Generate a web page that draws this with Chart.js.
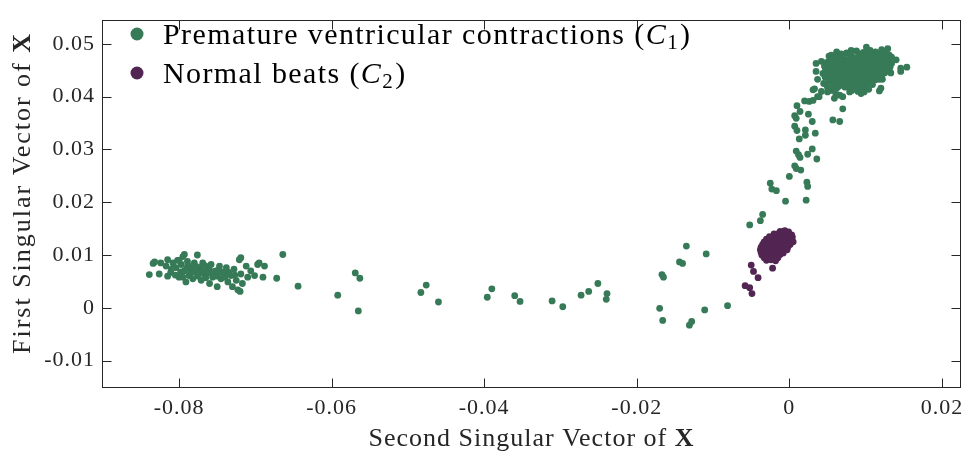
<!DOCTYPE html>
<html><head><meta charset="utf-8">
<script src="https://cdn.jsdelivr.net/npm/chart.js@4/dist/chart.umd.min.js"></script>
<style>html,body{margin:0;padding:0;background:#fff;}canvas{display:block;}</style>
</head><body>
<canvas id="c" width="969" height="457"></canvas>
<script>
// ---------- data ----------
const seriesNames = ['Premature ventricular contractions', 'Normal beats'];
const seriesSubscripts = ['1', '2'];
const seriesColors = ['#377a57', '#522552'];

const xTickValues = [-0.08, -0.06, -0.04, -0.02, 0, 0.02];
const xTickLabels = ['-0.08', '-0.06', '-0.04', '-0.02', '0', '0.02'];
const yTickValues = [-0.01, 0, 0.01, 0.02, 0.03, 0.04, 0.05];
const yTickLabels = ['-0.01', '0', '0.01', '0.02', '0.03', '0.04', '0.05'];
const xAxisTitle = 'Second Singular Vector of ';
const yAxisTitle = 'First Singular Vector of ';
const axisSymbol = 'X';

// Premature ventricular contractions (C1): [second, first] singular vector values
const pvcLeftCluster = [
[-0.0839,0.0063],[-0.0832,0.0087],[-0.0824,0.0085],[-0.0826,0.0064],[-0.0817,0.0079],[-0.0815,0.0091],[-0.0811,0.0067],[-0.0808,0.0085],
[-0.0804,0.0076],[-0.0802,0.0090],[-0.0800,0.0058],[-0.0797,0.0082],[-0.0795,0.0097],[-0.0793,0.0070],[-0.0791,0.0049],[-0.0789,0.0088],
[-0.0787,0.0061],[-0.0784,0.0076],[-0.0782,0.0055],[-0.0780,0.0085],[-0.0778,0.0067],[-0.0776,0.0100],[-0.0773,0.0076],[-0.0771,0.0052],
[-0.0769,0.0085],[-0.0767,0.0064],[-0.0763,0.0073],[-0.0760,0.0046],[-0.0758,0.0082],[-0.0756,0.0058],[-0.0752,0.0070],[-0.0750,0.0040],
[-0.0747,0.0079],[-0.0745,0.0055],[-0.0741,0.0064],[-0.0738,0.0076],[-0.0736,0.0049],[-0.0732,0.0061],[-0.0730,0.0040],[-0.0728,0.0073],
[-0.0725,0.0052],[-0.0723,0.0034],[-0.0721,0.0091],[-0.0719,0.0064],[-0.0717,0.0046],[-0.0712,0.0079],[-0.0710,0.0058],[-0.0706,0.0070],
[-0.0701,0.0061],[-0.0697,0.0082],[-0.0688,0.0079],[-0.0690,0.0058],[-0.0793,0.0101],[-0.0834,0.0084],[-0.0719,0.0095],[-0.0695,0.0085],
[-0.0720,0.0031],[-0.0798,0.0068],[-0.0790,0.0075],[-0.0785,0.0066],[-0.0780,0.0071],[-0.0775,0.0060],[-0.0770,0.0069],[-0.0765,0.0057],
[-0.0762,0.0066],[-0.0755,0.0064],[-0.0750,0.0060],[-0.0744,0.0068],[-0.0740,0.0058],[-0.0735,0.0067],[-0.0810,0.0073],[-0.0805,0.0062],
[-0.0795,0.0058],[-0.0788,0.0080],[-0.0777,0.0078],[-0.0766,0.0080],[-0.0760,0.0072],[-0.0748,0.0072],[-0.0727,0.0062],[-0.0815,0.0060],
[-0.0800,0.0090]
];
const pvcScattered = [
[-0.0664,0.0101],[-0.0672,0.0056],[-0.0644,0.0041],[-0.0592,0.0024],[-0.0569,0.0066],[-0.0563,0.0056],[-0.0565,-0.0006],[-0.0483,0.0029],
[-0.0476,0.0043],[-0.0460,0.0011],[-0.0396,0.0020],[-0.0390,0.0036],[-0.0360,0.0023],[-0.0353,0.0012],[-0.0311,0.0013],[-0.0297,0.0002],
[-0.0273,0.0024],[-0.0263,0.0031],[-0.0251,0.0046],[-0.0239,0.0027],[-0.0240,0.0016],[-0.0135,0.0117],[-0.0109,0.0102],[-0.0144,0.0087],
[-0.0140,0.0084],[-0.0167,0.0063],[-0.0165,0.0058],[-0.0170,-0.0001],[-0.0166,-0.0024],[-0.0111,-0.0004],[-0.0081,0.0004],[-0.0128,-0.0026],
[-0.0131,-0.0033]
];
const pvcArc = [
[-0.0052,0.0157],[-0.0038,0.0165],[-0.0035,0.0177],[-0.0005,0.0202],[0.0022,0.0204],[-0.0025,0.0236],[-0.0023,0.0225],[-0.0017,0.0222],
[0.0023,0.0238],[0.0024,0.0230],[0.0000,0.0249],[0.0007,0.0269],[0.0009,0.0264],[0.0015,0.0261],[0.0036,0.0282],[0.0009,0.0297],
[0.0012,0.0290],[0.0014,0.0285],[0.0024,0.0291],[0.0030,0.0301],[0.0013,0.0320],[0.0021,0.0337],[0.0021,0.0327],[0.0034,0.0331],
[0.0007,0.0344],[0.0010,0.0336],[0.0030,0.0353],[0.0007,0.0364],[0.0009,0.0359],[0.0025,0.0367],[0.0010,0.0383],[0.0014,0.0372],
[0.0020,0.0392],[0.0026,0.0391],[0.0031,0.0393],[0.0057,0.0356],[0.0066,0.0353],[0.0070,0.0377]
];
const pvcTopEdge = [
[0.0031,0.0413],[0.0037,0.0400],[0.0154,0.0456],[0.0146,0.0454],[0.0146,0.0448],[0.0133,0.0445],[0.0101,0.0494],[0.0081,0.0488],
[0.0118,0.0411],[0.0120,0.0416],[0.0035,0.0463],[0.0042,0.0467],[0.0052,0.0477],[0.0035,0.0448],[0.0037,0.0433],[0.0033,0.0415],
[0.0039,0.0400],[0.0050,0.0409],[0.0059,0.0397],[0.0066,0.0403],[0.0079,0.0409],[0.0094,0.0406],[0.0098,0.0409],[0.0140,0.0470],
[0.0129,0.0491],[0.0055,0.0479],[0.0122,0.0433],
[0.0045,0.0425],[0.0050,0.0418],[0.0042,0.0410],[0.0055,0.0412],[0.0061,0.0405],[0.0070,0.0400],[0.0082,0.0412],[0.0090,0.0410]
];
const pvcTopCore = [
[0.0062,0.0485],[0.0075,0.0483],[0.0088,0.0487],[0.0097,0.0484],[0.0106,0.0488],[0.0113,0.0485],[0.0121,0.0489],[0.0127,0.0486],
[0.0058,0.0477],[0.0067,0.0480],[0.0079,0.0476],[0.0091,0.0479],[0.0100,0.0477],[0.0110,0.0480],[0.0118,0.0478],[0.0124,0.0481],[0.0131,0.0479],
[0.0053,0.0471],[0.0064,0.0473],[0.0072,0.0470],[0.0084,0.0472],[0.0095,0.0471],[0.0104,0.0474],[0.0115,0.0471],[0.0122,0.0473],[0.0128,0.0470],
[0.0049,0.0465],[0.0060,0.0467],[0.0070,0.0464],[0.0081,0.0466],[0.0090,0.0468],[0.0101,0.0465],[0.0109,0.0467],[0.0119,0.0464],[0.0126,0.0466],[0.0134,0.0463],
[0.0046,0.0458],[0.0057,0.0460],[0.0067,0.0457],[0.0077,0.0459],[0.0087,0.0461],[0.0097,0.0458],[0.0106,0.0460],[0.0114,0.0457],[0.0123,0.0459],[0.0130,0.0461],
[0.0050,0.0451],[0.0061,0.0453],[0.0071,0.0450],[0.0082,0.0452],[0.0092,0.0454],[0.0102,0.0451],[0.0111,0.0453],[0.0120,0.0450],[0.0128,0.0452],
[0.0044,0.0444],[0.0055,0.0446],[0.0065,0.0443],[0.0076,0.0445],[0.0086,0.0447],[0.0096,0.0444],[0.0105,0.0446],[0.0116,0.0443],[0.0125,0.0445],
[0.0047,0.0437],[0.0058,0.0439],[0.0069,0.0436],[0.0080,0.0438],[0.0090,0.0440],[0.0099,0.0437],[0.0110,0.0439],[0.0121,0.0436],
[0.0052,0.0430],[0.0063,0.0432],[0.0073,0.0429],[0.0084,0.0431],[0.0094,0.0433],[0.0104,0.0430],[0.0113,0.0432],
[0.0057,0.0423],[0.0068,0.0425],[0.0078,0.0422],[0.0088,0.0424],[0.0098,0.0426],[0.0109,0.0423],
[0.0062,0.0416],[0.0073,0.0418],[0.0085,0.0415],[0.0095,0.0417],[0.0104,0.0414]
];
const pvcTopFill = [
[0.0068,0.0481],[0.0081,0.0482],[0.0093,0.0481],[0.0102,0.0482],[0.0116,0.0481],[0.0124,0.0484],
[0.0060,0.0474],[0.0070,0.0475],[0.0085,0.0474],[0.0096,0.0475],[0.0106,0.0474],[0.0119,0.0475],[0.0127,0.0474],[0.0134,0.0475],
[0.0055,0.0468],[0.0066,0.0468],[0.0077,0.0469],[0.0087,0.0468],[0.0098,0.0469],[0.0112,0.0468],[0.0123,0.0469],[0.0130,0.0467],
[0.0052,0.0462],[0.0063,0.0462],[0.0073,0.0461],[0.0085,0.0462],[0.0094,0.0463],[0.0103,0.0462],[0.0117,0.0461],[0.0127,0.0462],
[0.0047,0.0455],[0.0055,0.0455],[0.0066,0.0454],[0.0078,0.0455],[0.0089,0.0456],[0.0099,0.0455],[0.0108,0.0456],[0.0117,0.0454],[0.0125,0.0455],[0.0132,0.0456],
[0.0048,0.0448],[0.0060,0.0448],[0.0070,0.0447],[0.0080,0.0448],[0.0091,0.0449],[0.0100,0.0448],[0.0113,0.0448],[0.0122,0.0447],
[0.0050,0.0441],[0.0061,0.0441],[0.0072,0.0440],[0.0083,0.0441],[0.0093,0.0442],[0.0103,0.0441],[0.0114,0.0441],
[0.0055,0.0434],[0.0066,0.0434],[0.0077,0.0433],[0.0088,0.0435],[0.0100,0.0434],[0.0108,0.0434],[0.0118,0.0433],
[0.0060,0.0427],[0.0072,0.0427],[0.0082,0.0426],[0.0092,0.0427],[0.0102,0.0427],
[0.0065,0.0420],[0.0076,0.0420],[0.0092,0.0420],[0.0101,0.0421]
];

// Normal beats (C2)
const normalCore = [
[-0.0012,0.0145],[-0.0006,0.0146],[-0.0001,0.0144],
[-0.0020,0.0140],[-0.0014,0.0141],[-0.0008,0.0139],[-0.0002,0.0140],[0.0003,0.0138],
[-0.0026,0.0135],[-0.0019,0.0136],[-0.0013,0.0134],[-0.0007,0.0135],[-0.0001,0.0136],[0.0004,0.0134],
[-0.0030,0.0130],[-0.0024,0.0131],[-0.0018,0.0129],[-0.0012,0.0130],[-0.0006,0.0131],[0.0000,0.0129],
[-0.0033,0.0125],[-0.0027,0.0126],[-0.0021,0.0124],[-0.0015,0.0125],[-0.0009,0.0126],[-0.0003,0.0124],[0.0005,0.0125],
[-0.0035,0.0120],[-0.0029,0.0121],[-0.0023,0.0119],[-0.0017,0.0120],[-0.0011,0.0121],[-0.0005,0.0119],[0.0001,0.0120],
[-0.0037,0.0115],[-0.0031,0.0116],[-0.0025,0.0114],[-0.0019,0.0115],[-0.0013,0.0116],[-0.0007,0.0114],[-0.0002,0.0115],
[-0.0038,0.0110],[-0.0032,0.0111],[-0.0026,0.0109],[-0.0020,0.0110],[-0.0014,0.0111],[-0.0008,0.0109],[-0.0003,0.0110],
[-0.0037,0.0105],[-0.0031,0.0106],[-0.0025,0.0104],[-0.0019,0.0105],[-0.0013,0.0106],[-0.0008,0.0104],
[-0.0036,0.0100],[-0.0030,0.0101],[-0.0024,0.0099],[-0.0018,0.0100],[-0.0012,0.0101],
[-0.0033,0.0095],[-0.0027,0.0096],[-0.0021,0.0094],[-0.0015,0.0095],
[-0.0030,0.0090],[-0.0024,0.0091],[-0.0018,0.0089]
];
const normalTail = [
[-0.0050,0.0081],[-0.0047,0.0069],[-0.0041,0.0057],[-0.0058,0.0042],[-0.0052,0.0038],[-0.0049,0.0027],[-0.0022,0.0075]
];

// ---------- chart ----------
const toPts = arr => arr.map(p => ({x: p[0], y: p[1]}));
const pvcPoints = [].concat(pvcLeftCluster, pvcScattered, pvcArc, pvcTopEdge, pvcTopCore, pvcTopFill);
const normalPoints = [].concat(normalCore, normalTail);

const FONT = '"Liberation Serif", "Times New Roman", serif';
const TEXT_COLOR = '#262626';

const decorPlugin = {
  id: 'decor',
  beforeDraw(chart) {
    chart.ctx.letterSpacing = '1px';
  },
  afterDraw(chart) {
    const {ctx, chartArea: a, scales: {x, y}} = chart;
    ctx.save();
    ctx.strokeStyle = TEXT_COLOR;
    ctx.lineWidth = 1;
    const L = Math.round(a.left) + 0.5, R = Math.round(a.right) - 0.5;
    const T = Math.round(a.top) + 0.5, B = Math.round(a.bottom) - 0.5;
    ctx.strokeRect(L, T, R - L, B - T);
    const tl = 9;
    ctx.beginPath();
    xTickValues.forEach(v => {
      const px = Math.round(x.getPixelForValue(v)) + 0.5;
      ctx.moveTo(px, B); ctx.lineTo(px, B - tl);
      ctx.moveTo(px, T); ctx.lineTo(px, T + tl);
    });
    yTickValues.forEach(v => {
      const py = Math.round(y.getPixelForValue(v)) + 0.5;
      ctx.moveTo(L, py); ctx.lineTo(L + tl, py);
      ctx.moveTo(R, py); ctx.lineTo(R - tl, py);
    });
    ctx.stroke();

    // axis titles with bold symbol
    const tsize = 26;
    const drawTitle = (text, cx, cy, spacing) => {
      ctx.letterSpacing = spacing;
      ctx.font = tsize + 'px ' + FONT;
      const w1 = ctx.measureText(text).width;
      ctx.font = 'bold ' + tsize + 'px ' + FONT;
      const w2 = ctx.measureText(axisSymbol).width;
      const sx = cx - (w1 + w2) / 2;
      ctx.fillStyle = TEXT_COLOR;
      ctx.textBaseline = 'alphabetic';
      ctx.textAlign = 'left';
      ctx.font = tsize + 'px ' + FONT;
      ctx.fillText(text, sx, cy);
      ctx.font = 'bold ' + tsize + 'px ' + FONT;
      ctx.fillText(axisSymbol, sx + w1, cy);
    };
    drawTitle(xAxisTitle, (a.left + a.right) / 2, 446, '1px');
    ctx.save();
    ctx.translate(30, 193);
    ctx.rotate(-Math.PI / 2);
    drawTitle(yAxisTitle, 0, 0, '2px');
    ctx.restore();

    // legend
    const size = 30;
    ctx.letterSpacing = '1.4px';
    ctx.textAlign = 'left';
    ctx.textBaseline = 'alphabetic';
    seriesNames.forEach((name, i) => {
      const cy = 34 + i * 39;
      const base = cy + 10;
      ctx.fillStyle = seriesColors[i];
      ctx.beginPath();
      ctx.arc(137, cy, 6.5, 0, Math.PI * 2);
      ctx.fill();
      ctx.fillStyle = '#000';
      let tx = 163;
      ctx.font = size + 'px ' + FONT;
      const t1 = name + ' (';
      ctx.fillText(t1, tx, base); tx += ctx.measureText(t1).width;
      ctx.font = 'italic ' + size + 'px ' + FONT;
      ctx.fillText('C', tx, base); tx += ctx.measureText('C').width;
      ctx.font = Math.round(size * 0.7) + 'px ' + FONT;
      ctx.fillText(seriesSubscripts[i], tx, base + 5); tx += ctx.measureText(seriesSubscripts[i]).width + 1;
      ctx.font = size + 'px ' + FONT;
      ctx.fillText(')', tx, base);
    });
    ctx.restore();
  }
};

new Chart(document.getElementById('c'), {
  type: 'scatter',
  data: {
    datasets: [
      {label: seriesNames[0], data: toPts(pvcPoints), backgroundColor: seriesColors[0], borderWidth: 0, pointRadius: 3.4, pointHoverRadius: 3.4},
      {label: seriesNames[1], data: toPts(normalPoints), backgroundColor: seriesColors[1], borderWidth: 0, pointRadius: 3.4, pointHoverRadius: 3.4}
    ]
  },
  options: {
    responsive: false,
    animation: false,
    devicePixelRatio: 1,
    layout: {padding: {top: 7, right: 8, left: 0, bottom: 0}},
    plugins: {legend: {display: false}, tooltip: {enabled: false}},
    scales: {
      x: {
        type: 'linear', min: -0.0901, max: 0.0225,
        grid: {display: false, drawTicks: false},
        border: {display: false},
        afterBuildTicks: s => { s.ticks = xTickValues.map(v => ({value: v})); },
        afterFit: s => { s.height = 69; },
        ticks: {
          autoSkip: false, maxRotation: 0, padding: 7, color: TEXT_COLOR,
          font: {family: FONT, size: 22},
          callback: (v, i) => xTickLabels[i]
        }
      },
      y: {
        type: 'linear', min: -0.0152, max: 0.0545,
        grid: {display: false, drawTicks: false},
        border: {display: false},
        afterBuildTicks: s => { s.ticks = yTickValues.map(v => ({value: v})); },
        afterFit: s => { s.width = 102; },
        ticks: {
          autoSkip: false, padding: 7, color: TEXT_COLOR,
          font: {family: FONT, size: 22},
          callback: (v, i) => yTickLabels[i]
        }
      }
    }
  },
  plugins: [decorPlugin]
});
</script>
</body></html>
